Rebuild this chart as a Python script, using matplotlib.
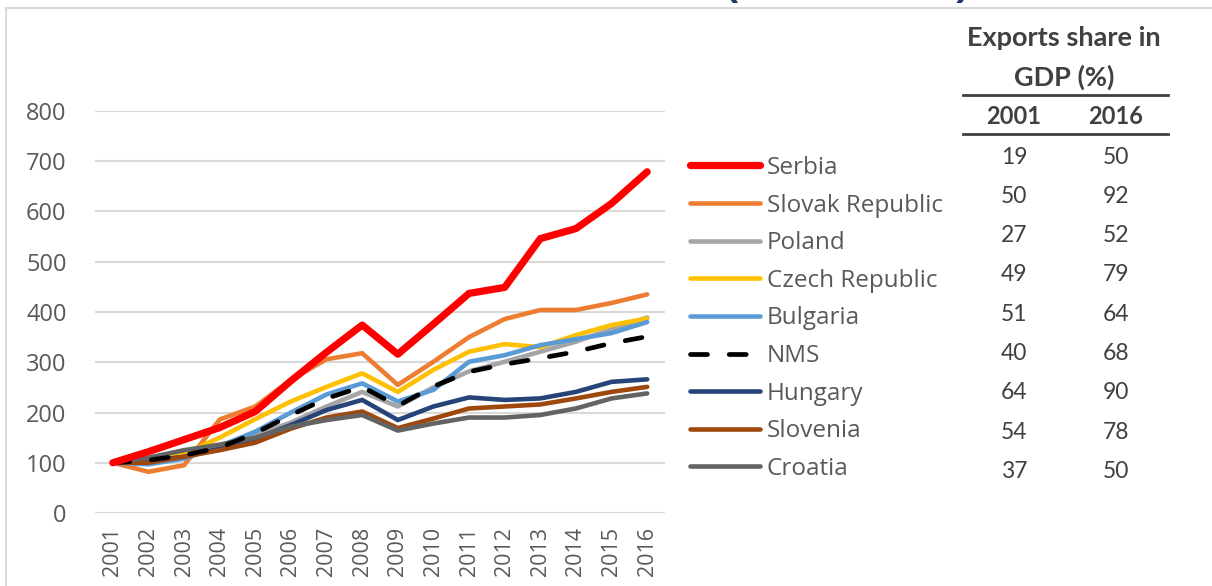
import matplotlib
matplotlib.use("Agg")
import matplotlib.pyplot as plt
from matplotlib.lines import Line2D

years = [str(y) for y in range(2001, 2017)]

serbia   = [100, 122, 146, 170, 202, 263, 320, 374, 316, 376, 437, 449, 546, 566, 616, 679]
slovak   = [100,  82,  95, 186, 212, 265, 306, 318, 255, 301, 350, 386, 404, 404, 418, 435]
poland   = [100, 105, 115, 135, 155, 180, 212, 241, 212, 250, 282, 301, 321, 341, 366, 389]
czech    = [100, 108, 118, 150, 187, 222, 251, 278, 241, 285, 321, 336, 330, 354, 374, 387]
bulgaria = [100,  97, 108, 133, 162, 200, 236, 258, 222, 245, 301, 314, 334, 346, 358, 380]
nms      = [100, 105, 115, 130, 159, 195, 228, 251, 213, 252, 281, 296, 308, 321, 338, 351]
hungary  = [100, 103, 112, 128, 148, 175, 205, 225, 185, 212, 230, 225, 228, 241, 261, 266]
slovenia = [100, 100, 112, 125, 140, 168, 190, 202, 169, 188, 208, 212, 216, 228, 241, 251]
croatia  = [100, 110, 125, 136, 150, 172, 185, 195, 164, 178, 190, 190, 195, 208, 228, 238]

names = ["Serbia", "Slovak Republic", "Poland", "Czech Republic", "Bulgaria",
         "NMS", "Hungary", "Slovenia", "Croatia"]
series = [serbia, slovak, poland, czech, bulgaria, nms, hungary, slovenia, croatia]
colors = ["#FF0000", "#ED7D31", "#A5A5A5", "#FFC000", "#5B9BD5",
          "#000000", "#264478", "#9E480E", "#636363"]

share_2001 = [19, 50, 27, 49, 51, 40, 64, 54, 37]
share_2016 = [50, 92, 52, 79, 64, 68, 90, 78, 50]
table_title = ["Exports share in", "GDP (%)"]
table_cols = ["2001", "2016"]

yticks = [0, 100, 200, 300, 400, 500, 600, 700, 800]

W, H = 1212, 586
fig = plt.figure(figsize=(W / 100, H / 100), dpi=100)
fig.patch.set_facecolor("white")

def fx(px):
    return px / W

def fy(py):
    return 1 - py / H

# outer frame (left and top edges visible)
fig.add_artist(Line2D([fx(6), fx(6)], [fy(8), fy(600)], color="#D9D9D9", lw=1.5,
                      transform=fig.transFigure))
fig.add_artist(Line2D([fx(6), fx(1220)], [fy(8), fy(8)], color="#D9D9D9", lw=1.5,
                      transform=fig.transFigure))

# cut-off title (only the descending parentheses are visible in the reference)
fig.text(fx(847), fy(-3), "(2001 = 100)", ha="center", va="baseline",
         fontsize=30.5, fontweight="bold", color="#1F3864", family="Open Sans")

ax = fig.add_axes([fx(95), fy(513), fx(665) - fx(95), fy(111) - fy(513)])
x = list(range(len(years)))
handles = []
for name, vals, col in zip(names, series, colors):
    if name == "NMS":
        ln, = ax.plot(x, vals, color=col, lw=3.4, dashes=(3.6, 4.6),
                      dash_capstyle="round", zorder=3)
    elif name == "Serbia":
        ln, = ax.plot(x, vals, color=col, lw=5.2, solid_capstyle="round",
                      solid_joinstyle="round", zorder=4)
    else:
        ln, = ax.plot(x, vals, color=col, lw=3.3, solid_capstyle="round",
                      solid_joinstyle="round", zorder=2)
    handles.append(ln)

ax.set_xlim(-0.5, len(years) - 0.5)
ax.set_ylim(0, 800)
ax.set_yticks(yticks)
ax.set_xticks(x)
ax.set_xticklabels(years, rotation=90, fontsize=15.5, color="#595959", family="Open Sans")
ax.set_yticklabels([str(v) for v in yticks], fontsize=17, color="#595959", family="Open Sans")
ax.tick_params(axis="both", length=0)
ax.tick_params(axis="y", pad=20.5)
ax.tick_params(axis="x", pad=10)
for s in ax.spines.values():
    s.set_visible(False)
ax.grid(axis="y", color="#D9D9D9", lw=1.5)
ax.set_axisbelow(True)

leg = fig.legend(handles, names, loc="upper left",
                 bbox_to_anchor=(fx(690), fy(156)), bbox_transform=fig.transFigure,
                 frameon=False, borderpad=0, handlelength=2.9, handletextpad=0.25,
                 labelspacing=0.56, borderaxespad=0,
                 prop={"family": "Open Sans", "size": 17.5})
for t in leg.get_texts():
    t.set_color("#595959")

# table
tcol = "#404040"
fig.text(fx(1064), fy(38), table_title[0], ha="center", va="center", fontsize=19.5,
         fontweight="bold", color=tcol, family="Lato")
fig.text(fx(1064), fy(77), table_title[1], ha="center", va="center", fontsize=19.5,
         fontweight="bold", color=tcol, family="Lato")
fig.add_artist(Line2D([fx(963), fx(1168)], [fy(95), fy(95)], color="#404040", lw=2,
                      transform=fig.transFigure))
fig.text(fx(1014), fy(117), table_cols[0], ha="center", va="center", fontsize=17,
         fontweight="bold", color=tcol, family="Lato")
fig.text(fx(1116), fy(117), table_cols[1], ha="center", va="center", fontsize=17,
         fontweight="bold", color=tcol, family="Lato")
fig.add_artist(Line2D([fx(963), fx(1168)], [fy(134), fy(134)], color="#404040", lw=2,
                      transform=fig.transFigure))
for i, (a, b) in enumerate(zip(share_2001, share_2016)):
    yy = 157 + i * 39.3
    fig.text(fx(1014), fy(yy), str(a), ha="center", va="center", fontsize=16.5,
             color=tcol, family="Lato")
    fig.text(fx(1116), fy(yy), str(b), ha="center", va="center", fontsize=16.5,
             color=tcol, family="Lato")

fig.savefig("out.png", dpi=100, facecolor="white")
